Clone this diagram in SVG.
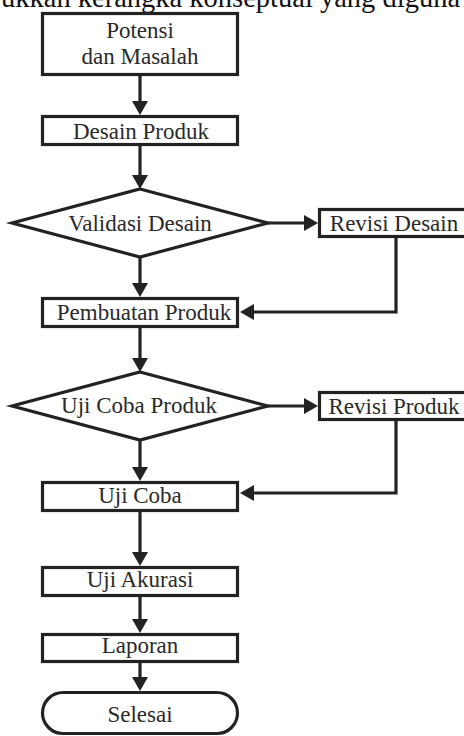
<svg xmlns="http://www.w3.org/2000/svg" width="464" height="736" viewBox="0 0 464 736">
<style>
.n{fill:#fff;stroke:#222;stroke-width:3.2}
.t{font-family:"Liberation Serif","Times New Roman",serif;font-size:23px;fill:#2a2a2a;text-anchor:middle}
.c{fill:none;stroke:#222;stroke-width:3.2}
</style>
<defs>
<marker id="ah" markerUnits="userSpaceOnUse" markerWidth="16" markerHeight="18" refX="0" refY="8" orient="auto" viewBox="0 0 16 16">
<path d="M0,0 L14,8 L0,16 Z" fill="#222"/>
</marker>
</defs>
<rect width="464" height="736" fill="#fff"/>
<text x="1" y="7" style="font-family:'Liberation Serif','Times New Roman',serif;font-size:28.5px;fill:#111">ukkan kerangka konseptual yang diguna</text>
<g id="connectors">
<path class="c" d="M140,76 V101" marker-end="url(#ah)"/>
<path class="c" d="M140,146 V175" marker-end="url(#ah)"/>
<path class="c" d="M140,257 V283" marker-end="url(#ah)"/>
<path class="c" d="M268,223 H304" marker-end="url(#ah)"/>
<path class="c" d="M396,238 V312 H254" marker-end="url(#ah)"/>
<path class="c" d="M140,328 V358" marker-end="url(#ah)"/>
<path class="c" d="M268,406 H304" marker-end="url(#ah)"/>
<path class="c" d="M396,421 V493 H254" marker-end="url(#ah)"/>
<path class="c" d="M140,440 V467" marker-end="url(#ah)"/>
<path class="c" d="M140,512 V552" marker-end="url(#ah)"/>
<path class="c" d="M140,597 V619" marker-end="url(#ah)"/>
<path class="c" d="M140,663 V677" marker-end="url(#ah)"/>
</g>
<g id="potensi">
<rect class="n" x="42.5" y="13.5" width="195" height="61"/>
<text class="t" x="140" y="38">Potensi</text>
<text class="t" x="140" y="64">dan Masalah</text>
</g>
<g id="desain">
<rect class="n" x="42.5" y="116.5" width="195" height="28"/>
<text class="t" x="141" y="139">Desain Produk</text>
</g>
<g id="validasi">
<polygon class="n" points="140,189 268,223 140,257 12,223"/>
<text class="t" x="140" y="231">Validasi Desain</text>
</g>
<g id="revisi-desain">
<rect class="n" x="319.5" y="209.5" width="150" height="27"/>
<text class="t" x="394" y="231">Revisi Desain</text>
</g>
<g id="pembuatan">
<rect class="n" x="42.5" y="298.5" width="195" height="28"/>
<text class="t" x="144" y="320">Pembuatan Produk</text>
</g>
<g id="ujicoba-produk">
<polygon class="n" points="140,372 268,406 140,440 12,406"/>
<text class="t" x="139" y="413">Uji Coba Produk</text>
</g>
<g id="revisi-produk">
<rect class="n" x="319.5" y="392.5" width="150" height="27"/>
<text class="t" x="394" y="414">Revisi Produk</text>
</g>
<g id="ujicoba">
<rect class="n" x="42.5" y="482.5" width="195" height="28"/>
<text class="t" x="140" y="503">Uji Coba</text>
</g>
<g id="akurasi">
<rect class="n" x="42.5" y="567.5" width="195" height="28"/>
<text class="t" x="140" y="587">Uji Akurasi</text>
</g>
<g id="laporan">
<rect class="n" x="42.5" y="634.5" width="195" height="27"/>
<text class="t" x="140" y="653">Laporan</text>
</g>
<g id="selesai">
<rect class="n" x="42.5" y="692.5" width="195" height="41" rx="20.5"/>
<text class="t" x="140" y="722">Selesai</text>
</g>
</svg>
